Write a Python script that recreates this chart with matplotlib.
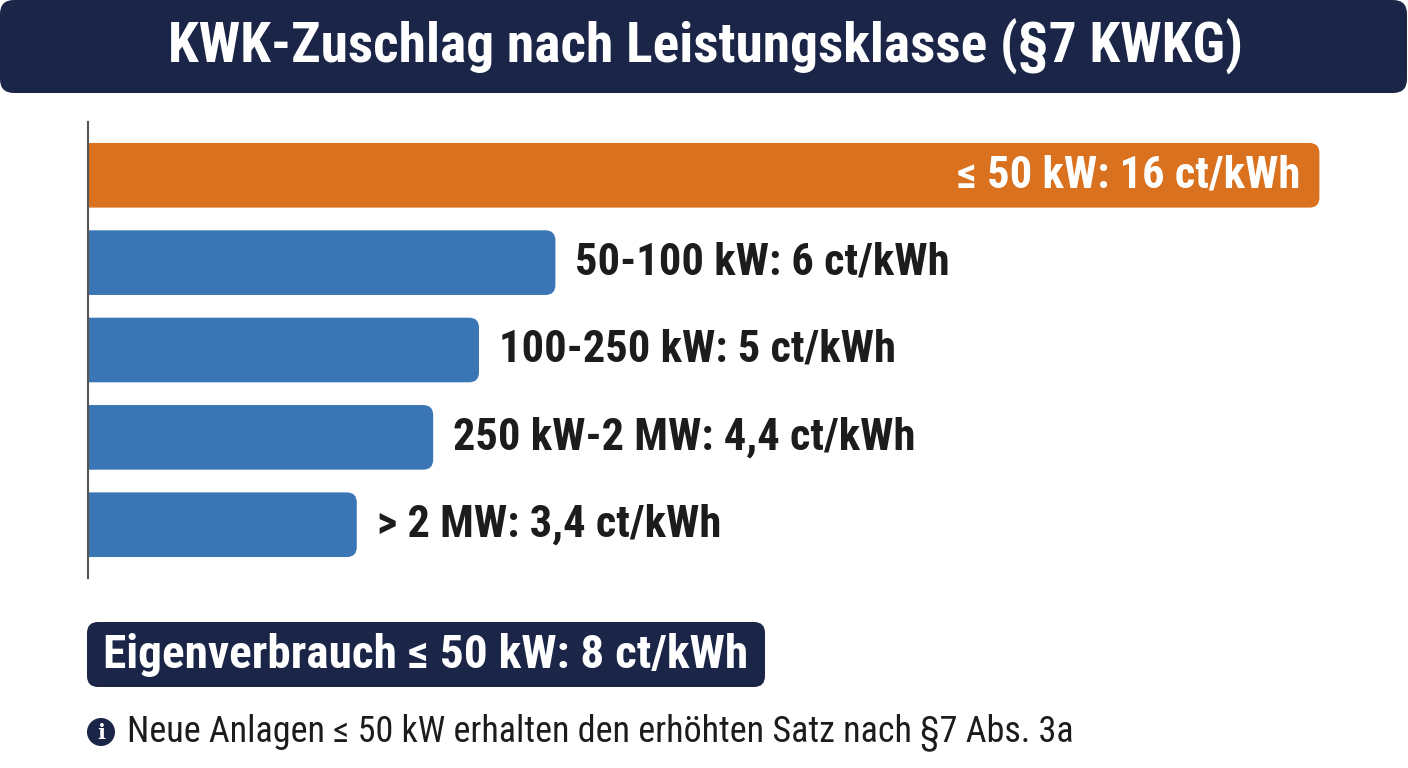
import matplotlib
matplotlib.use("Agg")
import matplotlib.pyplot as plt
from matplotlib.patches import FancyBboxPatch, Circle

plt.rcParams['font.family'] = ['Roboto Condensed', 'Roboto', 'DejaVu Sans']

# ── 데이터 ────────────────────────────────────────────
TITLE = "KWK-Zuschlag nach Leistungsklasse (§7 KWKG)"
classes = ["≤ 50 kW", "50-100 kW", "100-250 kW", "250 kW-2 MW", "> 2 MW"]
values = [16, 6, 5, 4.4, 3.4]
value_labels = ["16", "6", "5", "4,4", "3,4"]
EIGEN_TEXT = "Eigenverbrauch ≤ 50 kW: 8 ct/kWh"
NOTE_TEXT = "Neue Anlagen ≤ 50 kW erhalten den erhöhten Satz nach §7 Abs. 3a"

NAVY = "#1b2548"
ORANGE = "#d9711e"
BLUE = "#3a76b5"
DARK = "#1c1c1c"

W, H = 1408, 768
fig = plt.figure(figsize=(W / 100, H / 100), dpi=100)

# 배경 레이어 (픽셀 좌표)
bg = fig.add_axes([0, 0, 1, 1], zorder=0)
bg.set_xlim(0, W)
bg.set_ylim(H, 0)
bg.set_axis_off()

bg.add_patch(FancyBboxPatch((0, 0), W - 1, 93, boxstyle="round,pad=0,rounding_size=14",
                            fc=NAVY, ec="none"))
bg.text(W / 2 + 2, 47, TITLE, ha="center", va="center", color="white",
        fontsize=40, fontweight="bold")

# Eigenverbrauch 박스
bg.add_patch(FancyBboxPatch((87, 622), 678, 65, boxstyle="round,pad=0,rounding_size=11",
                            fc=NAVY, ec="none"))
bg.text(426, 655, EIGEN_TEXT, ha="center", va="center", color="white",
        fontsize=34, fontweight="bold")

# 안내 아이콘 + 문구
bg.add_patch(Circle((101, 732), 14, fc=NAVY, ec="none"))
bg.text(101, 733, "i", ha="center", va="center", color="white", fontsize=15,
        fontweight="bold", family="DejaVu Serif")
bg.text(127, 732, NOTE_TEXT, ha="left", va="center", color=DARK, fontsize=26)

# ── 막대 ──────────────────────────────────────────────
ax = fig.add_axes([88 / W, 1 - 578 / H, 1 - 88 / W, 456 / H], zorder=1)
ax.patch.set_alpha(0)
px = 1 / 76.4          # x 데이터 단위 / 픽셀
XMIN = -9 * px
ax.set_xlim(XMIN, XMIN + 1320 * px)
ax.set_ylim(4.61, -0.61)
for s in ["top", "right", "bottom"]:
    ax.spines[s].set_visible(False)
ax.spines["left"].set_color("#555555")
ax.spines["left"].set_linewidth(1.5)
ax.set_xticks([])
ax.set_yticks([])

bar_h = 0.74
r = 10 * px
asp = (10 / 87.4) / r
for i, (c, v, lab) in enumerate(zip(classes, values, value_labels)):
    color = ORANGE if i == 0 else BLUE
    ax.add_patch(FancyBboxPatch((XMIN - r * 2, i - bar_h / 2), v - XMIN + r * 2, bar_h,
                                boxstyle=f"round,pad=0,rounding_size={r}",
                                mutation_aspect=asp, fc=color, ec="none"))
    text = f"{c}: {lab} ct/kWh"
    if i == 0:
        ax.text(v - 19 * px, i, text, ha="right", va="center", color="white",
                fontsize=32, fontweight="bold")
    else:
        ax.text(v + 20 * px, i, text, ha="left", va="center", color=DARK,
                fontsize=32, fontweight="bold")

fig.savefig("out.png", dpi=100)
